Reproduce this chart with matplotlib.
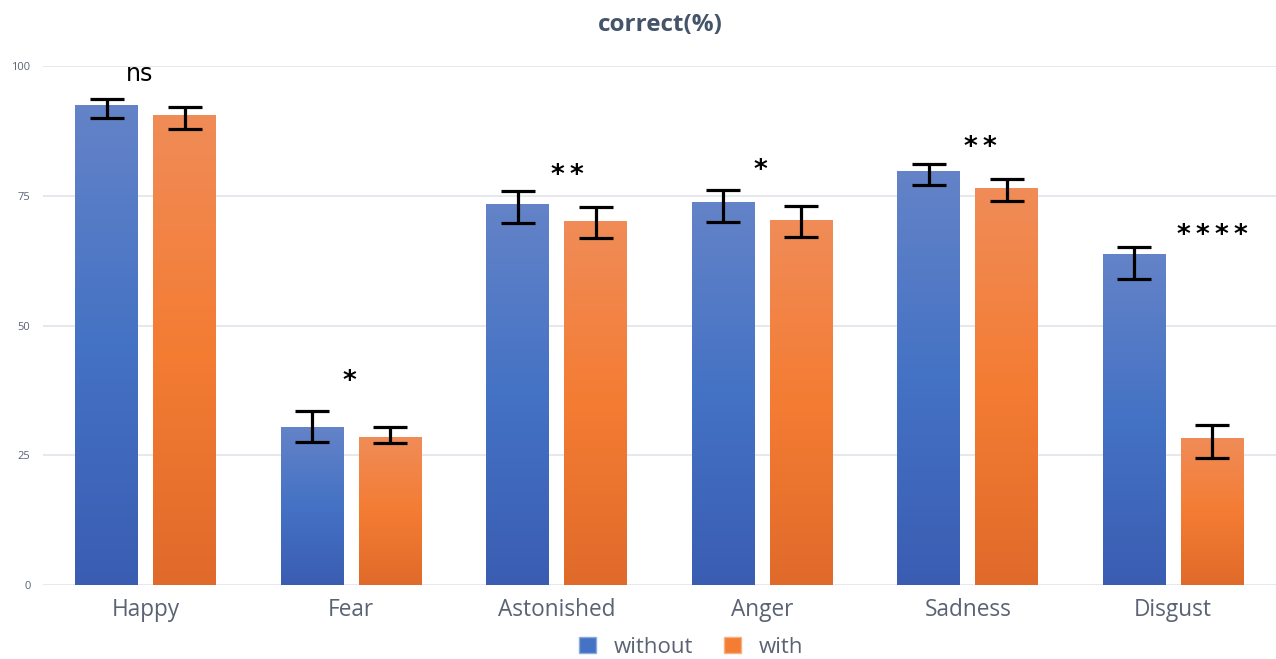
import numpy as np
import matplotlib.pyplot as plt
from matplotlib.colors import LinearSegmentedColormap
from matplotlib.patches import Patch

categories = ["Happy", "Fear", "Astonished", "Anger", "Sadness", "Disgust"]
without = [92.3, 30.3, 73.3, 73.7, 79.6, 63.6]
without_hi = [93.6, 33.5, 75.9, 76.1, 81.2, 65.1]
without_lo = [90.0, 27.5, 69.7, 70.0, 77.1, 59.0]
with_ = [90.4, 28.5, 70.0, 70.2, 76.4, 28.3]
with_hi = [92.1, 30.5, 72.8, 73.0, 78.2, 30.8]
with_lo = [87.9, 27.3, 66.8, 67.0, 74.0, 24.5]
sig_labels = ["ns", "*", "**", "*", "**", "****"]
sig_y = [98.5, 39.2, 78.9, 79.7, 84.2, 67.2]
sig_dx = [-0.03, -0.01, 0.05, -0.01, 0.06, 0.19]

plt.rcParams['font.family'] = ['Open Sans', 'DejaVu Sans']

fig = plt.figure(figsize=(12.76, 6.59), dpi=100)
ax = fig.add_axes([43 / 1276, 74 / 659, 1 - 43 / 1276, 519 / 659])

x = np.arange(len(categories))
w = 0.305
off = 0.19

blue = LinearSegmentedColormap.from_list("b", ["#3A5DB2", "#4472C4", "#6483C8"])
orange = LinearSegmentedColormap.from_list("o", ["#E06A2A", "#F47C33", "#F08C58"])
grad = np.linspace(0, 1, 256).reshape(-1, 1)

# gradient bars
for xs, vals, cmap in [(x - off, without, blue), (x + off, with_, orange)]:
    for xi, v in zip(xs, vals):
        ax.imshow(grad, cmap=cmap, origin="lower", aspect="auto",
                  extent=(xi - w / 2, xi + w / 2, 0, v), zorder=2)

err_kw = dict(fmt="none", ecolor="black", elinewidth=2.3, capsize=12.5,
              capthick=2.3, zorder=4, clip_on=False)
ax.errorbar(x - off, without,
            yerr=[np.subtract(without, without_lo), np.subtract(without_hi, without)], **err_kw)
ax.errorbar(x + off, with_,
            yerr=[np.subtract(with_, with_lo), np.subtract(with_hi, with_)], **err_kw)

for i, (lab, y, dx) in enumerate(zip(sig_labels, sig_y, sig_dx)):
    if lab == "ns":
        ax.text(i + dx, y, lab, ha="center", va="center", fontsize=17,
                family="DejaVu Sans", color="black")
    else:
        ax.text(i + dx, y, "\u2009".join(lab), ha="center", va="center",
                fontsize=19, fontweight="bold", family="DejaVu Sans", color="black")

ax.set_xlim(-0.5, 5.5)
ax.set_ylim(0, 100)
ax.set_yticks([0, 25, 50, 75, 100])
ax.set_xticks(x)
ax.set_xticklabels(categories, fontsize=16.3, color="#5A6374")
ax.tick_params(axis="y", labelsize=8, colors="#5A6374", length=0, pad=9)
ax.tick_params(axis="x", length=0, pad=9)
ax.grid(axis="y", color="#E1E4EA", linewidth=1.2, zorder=0)
ax.set_axisbelow(True)
for s in ax.spines.values():
    s.set_visible(False)

fig.text(660 / 1276, 0.962, "correct(%)", ha="center", va="center", fontsize=17.5,
         fontweight="bold", color="#44546A")

handles = [Patch(facecolor="#4472C4", edgecolor="#8EA9DB", label="without"),
           Patch(facecolor="#F47C33", edgecolor="#F4B183", label="with")]
fig.legend(handles=handles, loc="center", bbox_to_anchor=(0.5415, 0.018),
           ncol=2, frameon=False, fontsize=16, handlelength=0.75, handleheight=0.75,
           columnspacing=1.4, handletextpad=0.8, labelcolor="#5A6374")

fig.savefig("out.png", dpi=100)
